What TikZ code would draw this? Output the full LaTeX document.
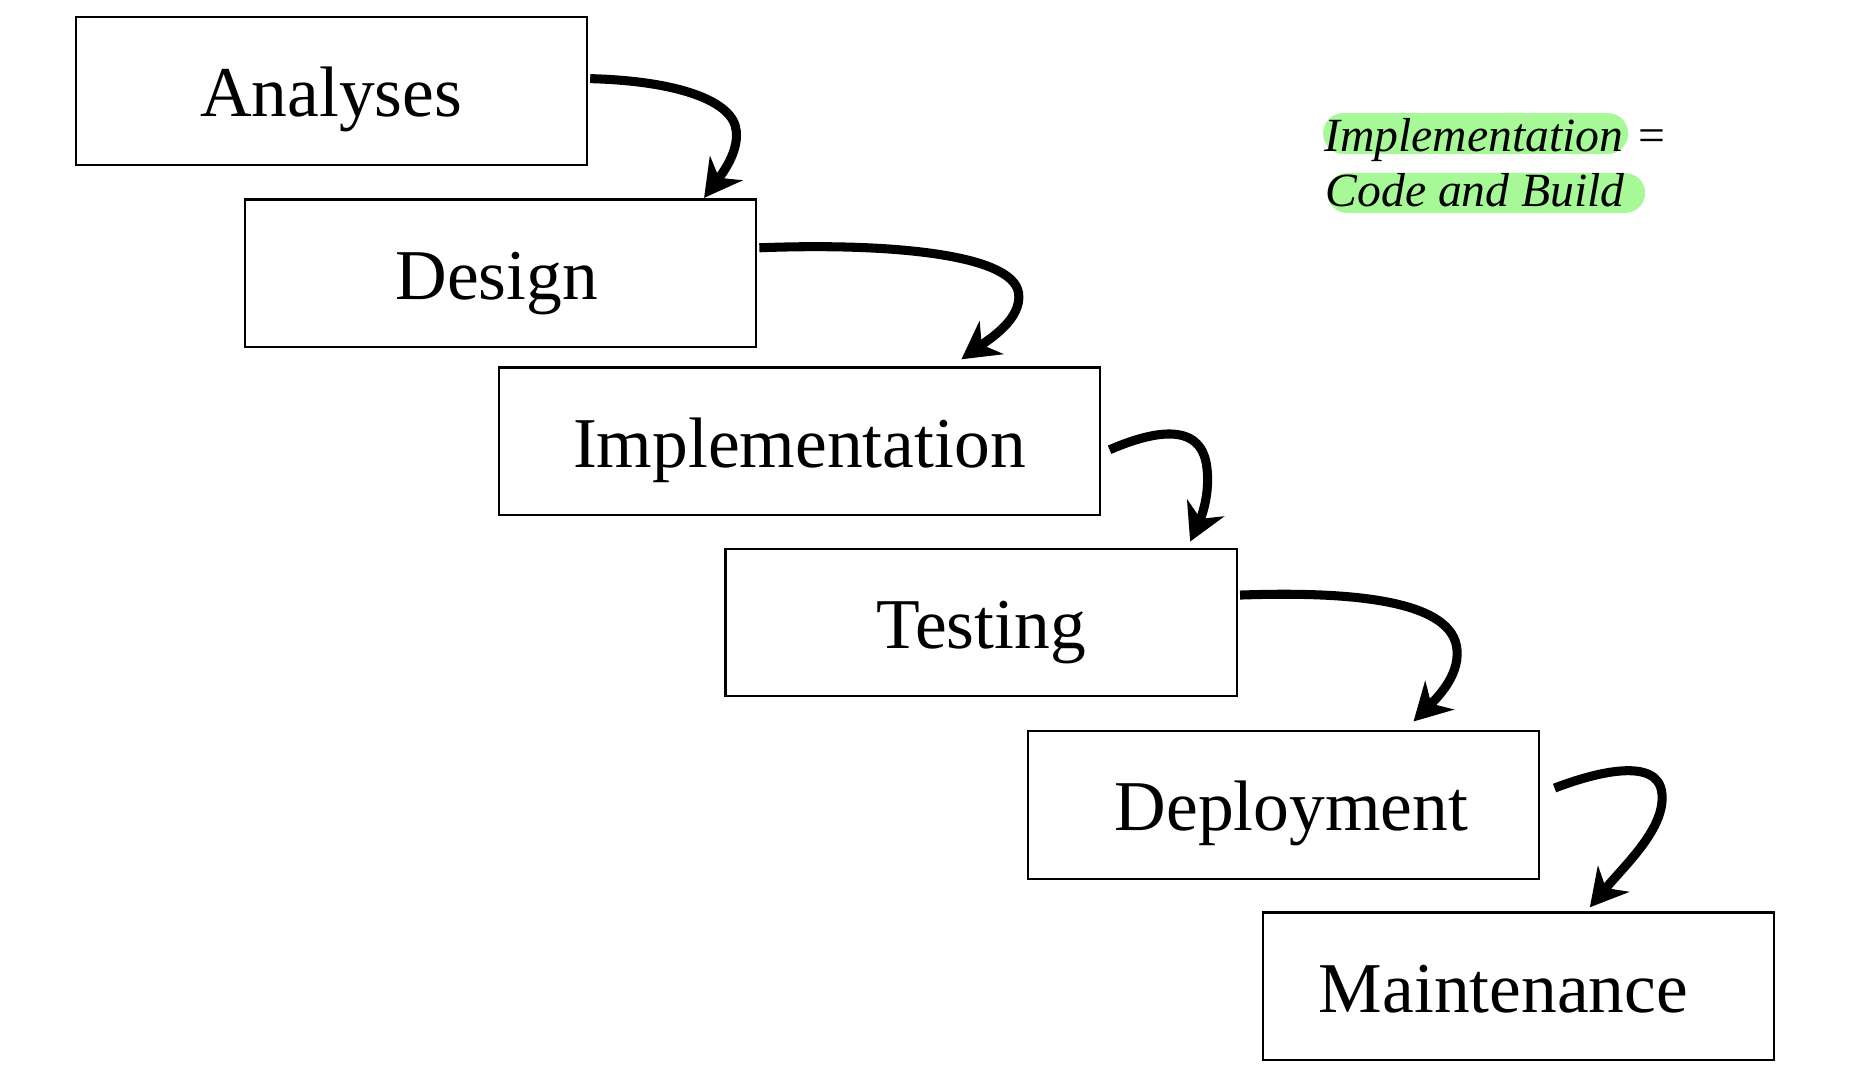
\documentclass[tikz,border=0pt]{standalone}
\usepackage{fontspec}
\setmainfont{Liberation Serif}
\usetikzlibrary{arrows.meta,calc}
\definecolor{hlgreen}{RGB}{166,249,150}
\begin{document}
\begin{tikzpicture}[x=1pt,y=-1pt,
  stage/.style={draw,line width=1.8pt,minimum width=#1,minimum height=124pt,inner sep=0pt,
    font=\fontsize{60}{72}\selectfont,text height=48pt,text depth=5pt},
  stage/.default=429pt,
  flow/.style={line width=7.6pt,-{Stealth[length=31pt,width=34pt,inset=10pt]}},
  hl/.style={fill=hlgreen,rounded corners=17pt},
  note/.style={font=\fontsize{40}{48}\selectfont\itshape,anchor=base west,inner sep=0pt}]
\useasboundingbox (0,0) rectangle (1568,901.5);

% highlights
\fill[hl] (1110.6,94.9) rectangle (1366.6,129.3);
\fill[hl] (1114,145.2) rectangle (1381,178.8);
\node[note] (n1) at (1111.5,127.3) {Implementation};
\node[note,font=\fontsize{40}{48}\selectfont] (eq) at (1375.5,127.3) {=};
\node[note] (n2) at (1112.5,173.5) {Code and Build};

% stages
\node[stage] (A) at (278,76.5) {Analyses};
\node[stage] (D) at (420,229.5) {Design\hspace*{6pt}};
\node[stage=505pt] (I) at (671,370.5) {Implementation};
\node[stage] (T) at (823.5,522.5) {Testing};
\node[stage] (P) at (1077.5,675.5) {\hspace*{13pt}Deployment};
\node[stage] (M) at (1274.5,828) {Maintenance\hspace*{25pt}};

% connectors
\draw[flow] ($(A.east)+(2,-10.5)$) .. controls (570,68) and (616,85) .. (618,110)
  .. controls (620,128) and (606,146) .. ($(D.north)+(171,-0.5)$);
\draw[flow] ($(D.east)+(2,-21.5)$) .. controls (740,204) and (850,212) .. (855,246)
  .. controls (858,268) and (830,285) .. ($(I.north)+(136,-6)$);
\draw[flow] ($(I.east)+(7,7)$) .. controls (965,363) and (1008,352) .. (1013,392)
  .. controls (1016,415) and (1008,435) .. ($(T.north)+(175.5,-5)$);
\draw[flow] ($(T.east)+(2,-23)$) .. controls (1140,496) and (1220,505) .. (1223,545.6)
  .. controls (1225,568) and (1205,587) .. ($(P.north)+(109,-7)$);
\draw[flow] ($(P.east)+(12,-14)$) .. controls (1340,648) and (1392,635) .. (1395,666)
  .. controls (1398,695) and (1365,725) .. ($(M.north)+(60,-3.5)$);
\end{tikzpicture}
\end{document}
